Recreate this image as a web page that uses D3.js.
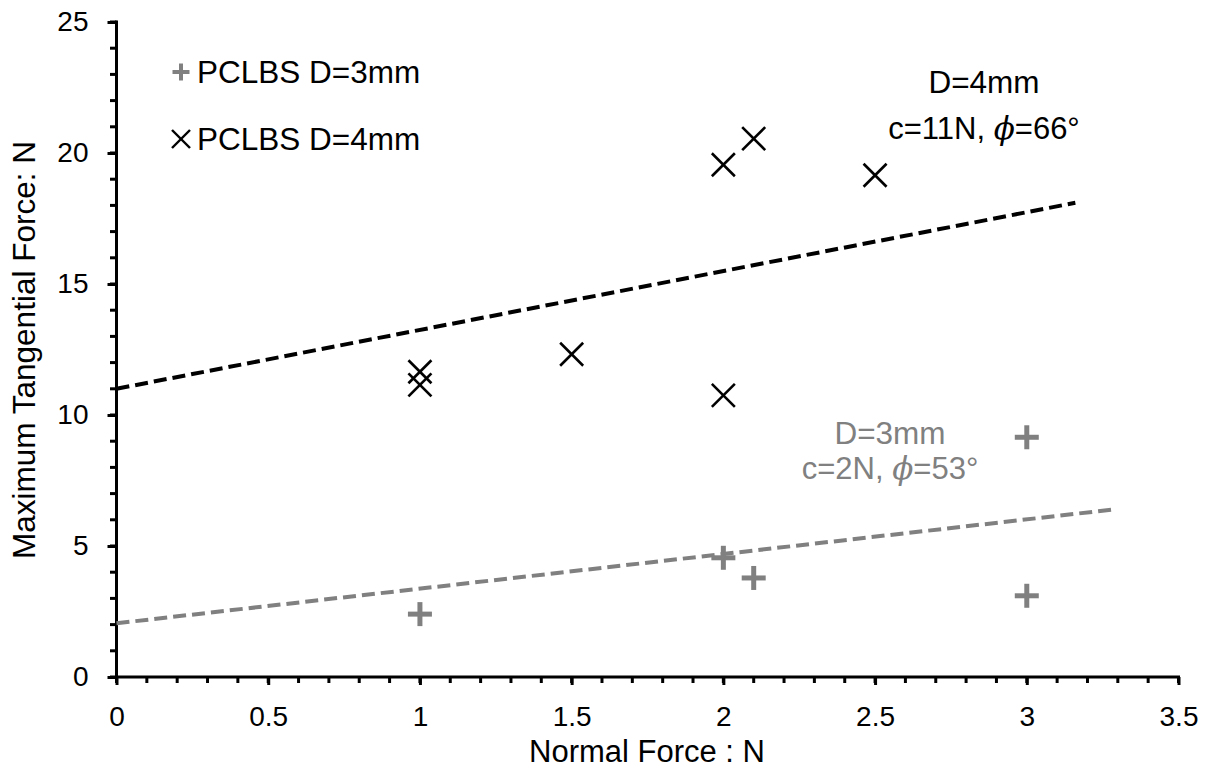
<!DOCTYPE html>
<html><head><meta charset="utf-8">
<script src="https://cdn.jsdelivr.net/npm/d3@7"></script>
<style>body{margin:0;background:#fff;} text{font-family:"Liberation Sans",Arial,sans-serif;}</style>
</head><body>
<svg id="c" width="1207" height="771"></svg>
<script>
// Data
const d3mmX = [1, 2, 2.1, 3, 3];
const d3mmY = [2.4, 4.55, 3.78, 9.15, 3.1];
const d4mmX = [1, 1, 1.5, 2, 2, 2.1, 2.5];
const d4mmY = [11.65, 11.15, 12.32, 10.75, 19.55, 20.55, 19.15];
const fit4X = [0, 3.16];
const fit4Y = [11.0, 18.1];
const fit3X = [0, 3.29];
const fit3Y = [2.05, 6.4];
const xTicks = [0, 0.5, 1, 1.5, 2, 2.5, 3, 3.5];
const yTicks = [0, 5, 10, 15, 20, 25];
const legendLabels = ["PCLBS D=3mm", "PCLBS D=4mm"];

const grey = "#808080";
const svg = d3.select("#c");
const x = d3.scaleLinear().domain([0, 3.5]).range([116.5, 1178.5]);
const y = d3.scaleLinear().domain([0, 25]).range([677, 22]);

// minor ticks
const xMinor = d3.range(0, 3.501, 0.1);
svg.append("g").selectAll("line").data(xMinor).join("line")
  .attr("x1", d => x(d)).attr("x2", d => x(d)).attr("y1", 677).attr("y2", 683)
  .attr("stroke", "#000").attr("stroke-width", 3);
const yMinor = d3.range(0, 25.01, 1);
svg.append("g").selectAll("line").data(yMinor).join("line")
  .attr("y1", d => y(d)).attr("y2", d => y(d)).attr("x1", 116.5).attr("x2", 110)
  .attr("stroke", "#000").attr("stroke-width", 3);

// axes
const xAxis = svg.append("g").attr("transform", "translate(0,677)")
  .call(d3.axisBottom(x).tickValues(xTicks).tickFormat(d => d).tickSize(8).tickPadding(21));
const yAxis = svg.append("g").attr("transform", "translate(116.5,0)")
  .call(d3.axisLeft(y).tickValues(yTicks).tickSize(9).tickPadding(19));
[xAxis, yAxis].forEach(a => {
  a.select(".domain").attr("stroke", "#000").attr("stroke-width", 3);
  a.selectAll(".tick line").attr("stroke", "#000").attr("stroke-width", 3);
  a.selectAll(".tick text").attr("font-size", 28).attr("fill", "#000")
    .style("font-family", "'Liberation Sans', Arial, sans-serif");
});
xAxis.select(".domain").attr("d", `M${x(0)-1.5},0H${x(3.5)+1.5}`);
yAxis.select(".domain").attr("d", `M0,${y(0)+1.5}V${y(25)-1.5}`);

// fit lines
const line = d3.line().x(d => x(d[0])).y(d => y(d[1]));
svg.append("path").datum(fit4X.map((v, i) => [v, fit4Y[i]])).attr("d", line)
  .attr("fill", "none").attr("stroke", "#000").attr("stroke-width", 4).attr("stroke-dasharray", "13,6");
svg.append("path").datum(fit3X.map((v, i) => [v, fit3Y[i]])).attr("d", line)
  .attr("fill", "none").attr("stroke", grey).attr("stroke-width", 4).attr("stroke-dasharray", "13,6");

// markers
function plus(g, cx, cy, s, w) {
  g.append("line").attr("x1", cx - s).attr("x2", cx + s).attr("y1", cy).attr("y2", cy)
    .attr("stroke", grey).attr("stroke-width", w);
  g.append("line").attr("x1", cx).attr("x2", cx).attr("y1", cy - s).attr("y2", cy + s)
    .attr("stroke", grey).attr("stroke-width", w);
}
function cross(g, cx, cy, s, w) {
  g.append("line").attr("x1", cx - s).attr("x2", cx + s).attr("y1", cy - s).attr("y2", cy + s)
    .attr("stroke", "#000").attr("stroke-width", w);
  g.append("line").attr("x1", cx - s).attr("x2", cx + s).attr("y1", cy + s).attr("y2", cy - s)
    .attr("stroke", "#000").attr("stroke-width", w);
}
const gm = svg.append("g");
d3mmX.forEach((v, i) => plus(gm, x(v), y(d3mmY[i]), 12, 5));
d4mmX.forEach((v, i) => cross(gm, x(v), y(d4mmY[i]), 11.5, 2.6));

// legend
const gl = svg.append("g");
plus(gl, 181, 72, 8.5, 4);
cross(gl, 181, 139, 9, 2.4);
gl.append("text").attr("x", 197).attr("y", 83).attr("font-size", 31.5).text(legendLabels[0]);
gl.append("text").attr("x", 197).attr("y", 150).attr("font-size", 31.5).text(legendLabels[1]);

// annotations
function annot(cx, y1, y2, col, dText, c, phi) {
  svg.append("text").attr("x", cx).attr("y", y1).attr("text-anchor", "middle")
    .attr("font-size", 31.5).attr("fill", col).text(dText);
  const t = svg.append("text").attr("x", cx).attr("y", y2).attr("text-anchor", "middle")
    .attr("font-size", 31).attr("fill", col);
  t.append("tspan").text(c + ", ");
  t.append("tspan").attr("font-style", "italic").attr("font-family", "'DejaVu Serif', serif").text("\u03D5");
  t.append("tspan").text("=" + phi + "°");
}
annot(984, 93, 139, "#000", "D=4mm", "c=11N", 66);
annot(890, 444, 479, grey, "D=3mm", "c=2N", 53);

// axis titles
svg.append("text").attr("x", 647).attr("y", 762).attr("text-anchor", "middle")
  .attr("font-size", 31).text("Normal Force : N");
svg.append("text").attr("transform", "translate(35,350) rotate(-90)").attr("text-anchor", "middle")
  .attr("font-size", 31.5).text("Maximum Tangential Force: N");
</script>
</body></html>
